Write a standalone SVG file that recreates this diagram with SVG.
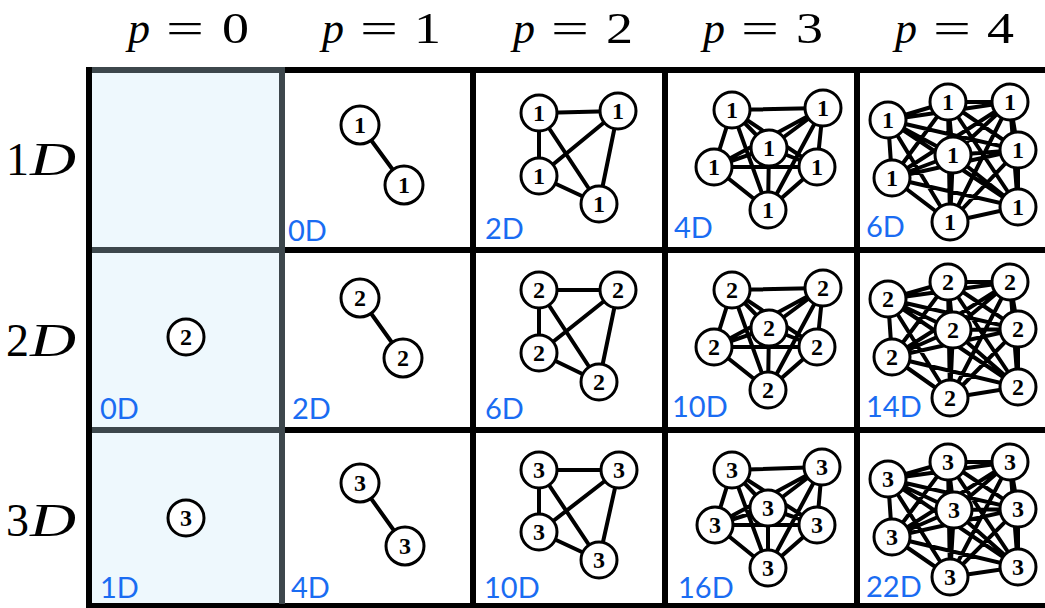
<svg xmlns="http://www.w3.org/2000/svg" width="1045" height="608" viewBox="0 0 1045 608">
<style>
.bg{fill:#fff}
.c0{fill:#eef8fd}
.gl{stroke:#000;stroke-width:6;fill:none}
.gg{stroke:#3d474c;stroke-width:6;fill:none}
.e{stroke:#000;stroke-width:4;fill:none;stroke-linecap:round}
.n circle{fill:#fff;stroke:#000;stroke-width:3}
.n text{font-family:"Liberation Serif",serif;font-weight:bold;font-size:24px;text-anchor:middle}
.lbl{font-family:Lato,"Open Sans",sans-serif;font-size:29px;fill:#1a6cf2}
.hdr{font-family:"Liberation Serif",serif;font-size:44px;fill:#000}
.rl{font-family:"Liberation Serif",serif;font-size:46px;fill:#000}
.it{font-style:italic}
</style>
<rect class="bg" x="0" y="0" width="1045" height="608"/>
<g id="grid">
<rect class="c0" x="89" y="70" width="193" height="537"/>
<path class="gl" d="M86 70H1045M86 250H1045M86 430H1045M86 606H1045M89 67V608M473 67V608M665 67V608M857 67V608"/>
<path class="gg" d="M92 70H284M92 250H284M92 430H284M282 67V604"/>
</g>
<g id="headers">
<text class="hdr" x="128" y="43"><tspan class="it">p</tspan><tspan x="166" textLength="38" lengthAdjust="spacingAndGlyphs">=</tspan><tspan x="222" textLength="27" lengthAdjust="spacingAndGlyphs">0</tspan></text>
<text class="hdr" x="322" y="43"><tspan class="it">p</tspan><tspan x="360" textLength="38" lengthAdjust="spacingAndGlyphs">=</tspan><tspan x="414" textLength="27" lengthAdjust="spacingAndGlyphs">1</tspan></text>
<text class="hdr" x="513" y="43"><tspan class="it">p</tspan><tspan x="551" textLength="38" lengthAdjust="spacingAndGlyphs">=</tspan><tspan x="606" textLength="27" lengthAdjust="spacingAndGlyphs">2</tspan></text>
<text class="hdr" x="703" y="43"><tspan class="it">p</tspan><tspan x="741" textLength="38" lengthAdjust="spacingAndGlyphs">=</tspan><tspan x="796" textLength="27" lengthAdjust="spacingAndGlyphs">3</tspan></text>
<text class="hdr" x="895" y="43"><tspan class="it">p</tspan><tspan x="933" textLength="38" lengthAdjust="spacingAndGlyphs">=</tspan><tspan x="987" textLength="27" lengthAdjust="spacingAndGlyphs">4</tspan></text>
</g>
<g id="rowlabels">
<text class="rl" x="6" y="175">1<tspan class="it" x="30" textLength="46" lengthAdjust="spacingAndGlyphs">D</tspan></text>
<text class="rl" x="6" y="356">2<tspan class="it" x="30" textLength="46" lengthAdjust="spacingAndGlyphs">D</tspan></text>
<text class="rl" x="6" y="536">3<tspan class="it" x="30" textLength="46" lengthAdjust="spacingAndGlyphs">D</tspan></text>
</g>
<g id="connectors">
<path class="e" d="M360 125L404 185M360 298L403 358M360 483L405 546"/>
<path class="e" d="M539 113L618 111M539 113L539 176M539 113L599 204M618 111L539 176M618 111L599 204M539 176L599 204"/>
<path class="e" d="M539 290L618 290M539 290L539 353M539 290L599 382M618 290L539 353M618 290L599 382M539 353L599 382"/>
<path class="e" d="M539 470L619 470M539 470L539 532M539 470L599 560M619 470L539 532M619 470L599 560M539 532L599 560"/>
<path class="e" d="M732 110L823 108M732 110L769 148M732 110L714 167M732 110L817 167M732 110L768 210M823 108L769 148M823 108L714 167M823 108L817 167M823 108L768 210M769 148L714 167M769 148L817 167M769 148L768 210M714 167L817 167M714 167L768 210M817 167L768 210"/>
<path class="e" d="M732 290L823 288M732 290L769 328M732 290L714 347M732 290L817 347M732 290L768 390M823 288L769 328M823 288L714 347M823 288L817 347M823 288L768 390M769 328L714 347M769 328L817 347M769 328L768 390M714 347L817 347M714 347L768 390M817 347L768 390"/>
<path class="e" d="M732 470L822 467M732 470L768 508M732 470L715 525M732 470L817 525M732 470L768 568M822 467L768 508M822 467L715 525M822 467L817 525M822 467L768 568M768 508L715 525M768 508L817 525M768 508L768 568M715 525L817 525M715 525L768 568M817 525L768 568"/>
<path class="e" d="M888 120L948 102M888 120L1010 102M888 120L953 155M888 120L1018 150M888 120L892 178M888 120L950 222M888 120L1018 207M948 102L1010 102M948 102L953 155M948 102L1018 150M948 102L892 178M948 102L950 222M948 102L1018 207M1010 102L953 155M1010 102L1018 150M1010 102L892 178M1010 102L950 222M1010 102L1018 207M953 155L1018 150M953 155L892 178M953 155L950 222M953 155L1018 207M1018 150L892 178M1018 150L950 222M1018 150L1018 207M892 178L950 222M892 178L1018 207M950 222L1018 207"/>
<path class="e" d="M888 299L948 282M888 299L1010 282M888 299L953 330M888 299L1018 329M888 299L892 357M888 299L950 398M888 299L1018 387M948 282L1010 282M948 282L953 330M948 282L1018 329M948 282L892 357M948 282L950 398M948 282L1018 387M1010 282L953 330M1010 282L1018 329M1010 282L892 357M1010 282L950 398M1010 282L1018 387M953 330L1018 329M953 330L892 357M953 330L950 398M953 330L1018 387M1018 329L892 357M1018 329L950 398M1018 329L1018 387M892 357L950 398M892 357L1018 387M950 398L1018 387"/>
<path class="e" d="M888 479L948 462M888 479L1010 462M888 479L954 510M888 479L1018 509M888 479L892 537M888 479L950 577M888 479L1018 567M948 462L1010 462M948 462L954 510M948 462L1018 509M948 462L892 537M948 462L950 577M948 462L1018 567M1010 462L954 510M1010 462L1018 509M1010 462L892 537M1010 462L950 577M1010 462L1018 567M954 510L1018 509M954 510L892 537M954 510L950 577M954 510L1018 567M1018 509L892 537M1018 509L950 577M1018 509L1018 567M892 537L950 577M892 537L1018 567M950 577L1018 567"/>
</g>
<g id="nodes">
<g id="r1p1a" class="n"><circle cx="360" cy="125" r="19"/><text x="360" y="133">1</text></g>
<g id="r1p1b" class="n"><circle cx="404" cy="185" r="19"/><text x="404" y="193">1</text></g>
<g id="r1p2a" class="n"><circle cx="539" cy="113" r="18"/><text x="539" y="121">1</text></g>
<g id="r1p2b" class="n"><circle cx="618" cy="111" r="18"/><text x="618" y="119">1</text></g>
<g id="r1p2c" class="n"><circle cx="539" cy="176" r="18"/><text x="539" y="184">1</text></g>
<g id="r1p2d" class="n"><circle cx="599" cy="204" r="18"/><text x="599" y="212">1</text></g>
<g id="r1p3tl" class="n"><circle cx="732" cy="110" r="18"/><text x="732" y="118">1</text></g>
<g id="r1p3tr" class="n"><circle cx="823" cy="108" r="18"/><text x="823" y="116">1</text></g>
<g id="r1p3c" class="n"><circle cx="769" cy="148" r="18"/><text x="769" y="156">1</text></g>
<g id="r1p3l" class="n"><circle cx="714" cy="167" r="18"/><text x="714" y="175">1</text></g>
<g id="r1p3r" class="n"><circle cx="817" cy="167" r="18"/><text x="817" y="175">1</text></g>
<g id="r1p3b" class="n"><circle cx="768" cy="210" r="18"/><text x="768" y="218">1</text></g>
<g id="r1p4tl" class="n"><circle cx="888" cy="120" r="18"/><text x="888" y="128">1</text></g>
<g id="r1p4t" class="n"><circle cx="948" cy="102" r="18"/><text x="948" y="110">1</text></g>
<g id="r1p4tr" class="n"><circle cx="1010" cy="102" r="18"/><text x="1010" y="110">1</text></g>
<g id="r1p4c" class="n"><circle cx="953" cy="155" r="18"/><text x="953" y="163">1</text></g>
<g id="r1p4r" class="n"><circle cx="1018" cy="150" r="18"/><text x="1018" y="158">1</text></g>
<g id="r1p4l" class="n"><circle cx="892" cy="178" r="18"/><text x="892" y="186">1</text></g>
<g id="r1p4b" class="n"><circle cx="950" cy="222" r="18"/><text x="950" y="230">1</text></g>
<g id="r1p4br" class="n"><circle cx="1018" cy="207" r="18"/><text x="1018" y="215">1</text></g>

<g id="r2p0a" class="n"><circle cx="186" cy="337" r="18"/><text x="186" y="345">2</text></g>
<g id="r2p1a" class="n"><circle cx="360" cy="298" r="19"/><text x="360" y="306">2</text></g>
<g id="r2p1b" class="n"><circle cx="403" cy="358" r="19"/><text x="403" y="366">2</text></g>
<g id="r2p2a" class="n"><circle cx="539" cy="290" r="18"/><text x="539" y="298">2</text></g>
<g id="r2p2b" class="n"><circle cx="618" cy="290" r="18"/><text x="618" y="298">2</text></g>
<g id="r2p2c" class="n"><circle cx="539" cy="353" r="18"/><text x="539" y="361">2</text></g>
<g id="r2p2d" class="n"><circle cx="599" cy="382" r="18"/><text x="599" y="390">2</text></g>
<g id="r2p3tl" class="n"><circle cx="732" cy="290" r="18"/><text x="732" y="298">2</text></g>
<g id="r2p3tr" class="n"><circle cx="823" cy="288" r="18"/><text x="823" y="296">2</text></g>
<g id="r2p3c" class="n"><circle cx="769" cy="328" r="18"/><text x="769" y="336">2</text></g>
<g id="r2p3l" class="n"><circle cx="714" cy="347" r="18"/><text x="714" y="355">2</text></g>
<g id="r2p3r" class="n"><circle cx="817" cy="347" r="18"/><text x="817" y="355">2</text></g>
<g id="r2p3b" class="n"><circle cx="768" cy="390" r="18"/><text x="768" y="398">2</text></g>
<g id="r2p4tl" class="n"><circle cx="888" cy="299" r="18"/><text x="888" y="307">2</text></g>
<g id="r2p4t" class="n"><circle cx="948" cy="282" r="18"/><text x="948" y="290">2</text></g>
<g id="r2p4tr" class="n"><circle cx="1010" cy="282" r="18"/><text x="1010" y="290">2</text></g>
<g id="r2p4c" class="n"><circle cx="953" cy="330" r="18"/><text x="953" y="338">2</text></g>
<g id="r2p4r" class="n"><circle cx="1018" cy="329" r="18"/><text x="1018" y="337">2</text></g>
<g id="r2p4l" class="n"><circle cx="892" cy="357" r="18"/><text x="892" y="365">2</text></g>
<g id="r2p4b" class="n"><circle cx="950" cy="398" r="18"/><text x="950" y="406">2</text></g>
<g id="r2p4br" class="n"><circle cx="1018" cy="387" r="18"/><text x="1018" y="395">2</text></g>

<g id="r3p0a" class="n"><circle cx="186" cy="518" r="18"/><text x="186" y="526">3</text></g>
<g id="r3p1a" class="n"><circle cx="360" cy="483" r="19"/><text x="360" y="491">3</text></g>
<g id="r3p1b" class="n"><circle cx="405" cy="546" r="19"/><text x="405" y="554">3</text></g>
<g id="r3p2a" class="n"><circle cx="539" cy="470" r="18"/><text x="539" y="478">3</text></g>
<g id="r3p2b" class="n"><circle cx="619" cy="470" r="18"/><text x="619" y="478">3</text></g>
<g id="r3p2c" class="n"><circle cx="539" cy="532" r="18"/><text x="539" y="540">3</text></g>
<g id="r3p2d" class="n"><circle cx="599" cy="560" r="18"/><text x="599" y="568">3</text></g>
<g id="r3p3tl" class="n"><circle cx="732" cy="470" r="18"/><text x="732" y="478">3</text></g>
<g id="r3p3tr" class="n"><circle cx="822" cy="467" r="18"/><text x="822" y="475">3</text></g>
<g id="r3p3c" class="n"><circle cx="768" cy="508" r="18"/><text x="768" y="516">3</text></g>
<g id="r3p3l" class="n"><circle cx="715" cy="525" r="18"/><text x="715" y="533">3</text></g>
<g id="r3p3r" class="n"><circle cx="817" cy="525" r="18"/><text x="817" y="533">3</text></g>
<g id="r3p3b" class="n"><circle cx="768" cy="568" r="18"/><text x="768" y="576">3</text></g>
<g id="r3p4tl" class="n"><circle cx="888" cy="479" r="18"/><text x="888" y="487">3</text></g>
<g id="r3p4t" class="n"><circle cx="948" cy="462" r="18"/><text x="948" y="470">3</text></g>
<g id="r3p4tr" class="n"><circle cx="1010" cy="462" r="18"/><text x="1010" y="470">3</text></g>
<g id="r3p4c" class="n"><circle cx="954" cy="510" r="18"/><text x="954" y="518">3</text></g>
<g id="r3p4r" class="n"><circle cx="1018" cy="509" r="18"/><text x="1018" y="517">3</text></g>
<g id="r3p4l" class="n"><circle cx="892" cy="537" r="18"/><text x="892" y="545">3</text></g>
<g id="r3p4b" class="n"><circle cx="950" cy="577" r="18"/><text x="950" y="585">3</text></g>
<g id="r3p4br" class="n"><circle cx="1018" cy="567" r="18"/><text x="1018" y="575">3</text></g>
</g>
<g id="celllabels">
<text class="lbl" x="288" y="241">0D</text>
<text class="lbl" x="485" y="239">2D</text>
<text class="lbl" x="674" y="238">4D</text>
<text class="lbl" x="866" y="237">6D</text>
<text class="lbl" x="100" y="419">0D</text>
<text class="lbl" x="292" y="419">2D</text>
<text class="lbl" x="485" y="419">6D</text>
<text class="lbl" x="672" y="417">10D</text>
<text class="lbl" x="866" y="417">14D</text>
<text class="lbl" x="100" y="598">1D</text>
<text class="lbl" x="291" y="598">4D</text>
<text class="lbl" x="484" y="598">10D</text>
<text class="lbl" x="678" y="598">16D</text>
<text class="lbl" x="866" y="597">22D</text>
</g>
</svg>
